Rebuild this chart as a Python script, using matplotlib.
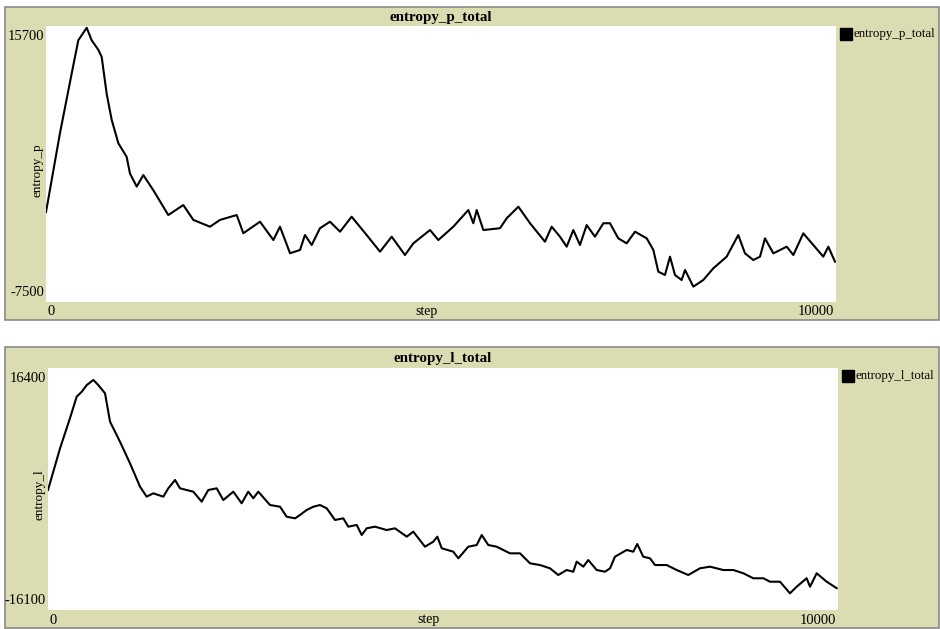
import matplotlib
matplotlib.use("Agg")
import matplotlib.pyplot as plt
from matplotlib.patches import Rectangle

# entropy_p_total
p_steps = [0, 177, 325, 409, 515, 578, 662, 705, 768, 832, 916, 1021, 1063, 1148,
           1232, 1358, 1548, 1738, 1865, 2076, 2203, 2414, 2498, 2709, 2878, 2962,
           3089, 3215, 3278, 3363, 3468, 3595, 3722, 3869, 4059, 4228, 4376, 4544,
           4650, 4861, 4966, 5156, 5346, 5409, 5452, 5536, 5747, 5832, 5979, 6127,
           6316, 6401, 6506, 6591, 6675, 6759, 6844, 6949, 7055, 7139, 7244, 7350,
           7456, 7604, 7688, 7751, 7835, 7899, 7962, 8046, 8089, 8194, 8320, 8447,
           8616, 8763, 8848, 8953, 9038, 9101, 9207, 9376, 9460, 9586, 9713, 9839,
           9903, 9987]
p_values = [60, 6700, 11700, 14500, 15550, 14500, 13700, 13100, 10000, 7800, 5840,
            4700, 3300, 2200, 3170, 1900, -190, 650, -600, -1170, -600, -190, -1720,
            -750, -2290, -1170, -3400, -3130, -1870, -2710, -1300, -750, -1590, -330,
            -1870, -3270, -2010, -3550, -2570, -1450, -2290, -1170, 230, -880, 230,
            -1450, -1300, -460, 510, -880, -2430, -1170, -2010, -2850, -1450, -2710,
            -1030, -2010, -880, -880, -2150, -2570, -1590, -2150, -3130, -4950, -5230,
            -3690, -5230, -5650, -4810, -6210, -5650, -4670, -3690, -1870, -3410,
            -3970, -3690, -2150, -3410, -2850, -3550, -1730, -2710, -3690, -2850, -4110]

# entropy_l_total
l_steps = [0, 152, 278, 363, 426, 490, 574, 637, 722, 785, 911, 1038, 1165, 1249,
           1333, 1460, 1523, 1608, 1671, 1839, 1945, 2029, 2135, 2219, 2346, 2451,
           2535, 2599, 2662, 2810, 2937, 3021, 3127, 3190, 3274, 3359, 3443, 3528,
           3633, 3738, 3801, 3908, 3971, 4034, 4139, 4287, 4392, 4541, 4624, 4772,
           4877, 4928, 4984, 5130, 5194, 5320, 5427, 5490, 5573, 5680, 5848, 5975,
           6101, 6228, 6354, 6459, 6566, 6649, 6692, 6776, 6839, 6945, 7051, 7114,
           7177, 7325, 7409, 7459, 7535, 7620, 7684, 7831, 7958, 8105, 8253, 8380,
           8548, 8675, 8802, 8928, 9055, 9139, 9266, 9392, 9477, 9603, 9646, 9730,
           9857, 9983]
l_values = [15, 5600, 9650, 12550, 13200, 14100, 14800, 14100, 13000, 9200, 6500,
            3600, 460, -880, -430, -880, 240, 1360, 240, -210, -1550, 15, 240, -1330,
            -210, -1770, -210, -1100, -210, -2000, -2230, -3570, -3790, -3340, -2670,
            -2230, -2000, -2440, -4010, -3790, -4910, -4680, -6030, -5130, -4910,
            -5360, -5130, -6250, -5580, -7600, -6930, -6250, -7810, -8270, -9160,
            -7600, -7370, -6030, -7370, -7600, -8490, -8490, -9830, -10060, -10500,
            -11400, -10730, -10960, -9610, -10280, -9390, -10730, -10960, -10500,
            -8940, -8040, -8270, -7240, -8940, -9160, -10060, -10060, -10730, -11400,
            -10500, -10280, -10730, -10730, -11170, -11840, -11840, -12300, -12300,
            -13860, -12970, -11840, -12970, -11170, -12300, -13170]

W, H = 940, 629
BEIGE = "#dcdcb2"
SERIF = ["Liberation Serif", "DejaVu Serif"]


def fx(x):
    return x / W


def fy(y):
    return 1 - y / H


fig = plt.figure(figsize=(W / 100, H / 100), dpi=100)
fig.patch.set_facecolor("white")

panels = [
    dict(box=(5, 7, 320), ax=(46, 26, 836, 302), title="entropy_p_total", ylabel="entropy_p",
         ymax=15700, ymin=-7500, steps=p_steps, values=p_values, legend_y=34),
    dict(box=(5, 347, 628), ax=(48, 368, 838, 610), title="entropy_l_total", ylabel="entropy_l",
         ymax=16400, ymin=-16100, steps=l_steps, values=l_values, legend_y=376),
]

for p in panels:
    bx, top, bottom = p["box"]
    fig.patches.append(Rectangle((fx(bx), fy(bottom)), fx(W - bx - 1), (bottom - top) / H,
                                 transform=fig.transFigure, facecolor=BEIGE,
                                 edgecolor="#8a8a8a", linewidth=1.2, zorder=-5))
    x0, y0, x1, y1 = p["ax"]
    ax = fig.add_axes([fx(x0), fy(y1), (x1 - x0) / W, (y1 - y0) / H])
    ax.set_zorder(2)
    ax.plot(p["steps"], p["values"], color="black", linewidth=1.5)
    ax.set_xlim(0, 10000)
    ax.set_ylim(p["ymin"], p["ymax"])
    ax.set_facecolor("white")
    ax.set_xticks([])
    ax.set_yticks([])
    for s in ax.spines.values():
        s.set_visible(False)

    cx = (x0 + x1) / 2
    fig.text(fx(cx), fy((top + y0) / 2 + 1), p["title"], ha="center", va="center",
             fontsize=10.8, fontweight="bold", family=SERIF)
    fig.text(fx(x0 - 2), fy(y0 + 10), str(p["ymax"]), ha="right", va="center",
             fontsize=10.5, family=SERIF)
    fig.text(fx(x0 - 2), fy(y1 - 9), str(p["ymin"]), ha="right", va="center",
             fontsize=10.5, family=SERIF)
    fig.text(fx(x0 - 8), fy((y0 + y1) / 2 + 6), p["ylabel"], ha="center", va="center",
             rotation=90, fontsize=9.5, family=SERIF)
    ty = (y1 + bottom) / 2 + 1
    fig.text(fx(x0 + 2), fy(ty), "0", ha="left", va="center", fontsize=10.5, family=SERIF)
    fig.text(fx(x1 - 2), fy(ty), "10000", ha="right", va="center", fontsize=10.5, family=SERIF)
    fig.text(fx(cx - 15), fy(ty), "step", ha="center", va="center", fontsize=10, family=SERIF)

    # legend in the right strip
    ly = p["legend_y"]
    fig.patches.append(Rectangle((fx(x1 + 4), fy(ly + 6)), 12 / W, 12 / H,
                                 transform=fig.transFigure, facecolor="black",
                                 edgecolor="black", zorder=3))
    fig.text(fx(x1 + 18), fy(ly), p["title"], ha="left", va="center",
             fontsize=9.3, family=SERIF)

fig.savefig("out.png", dpi=100)
